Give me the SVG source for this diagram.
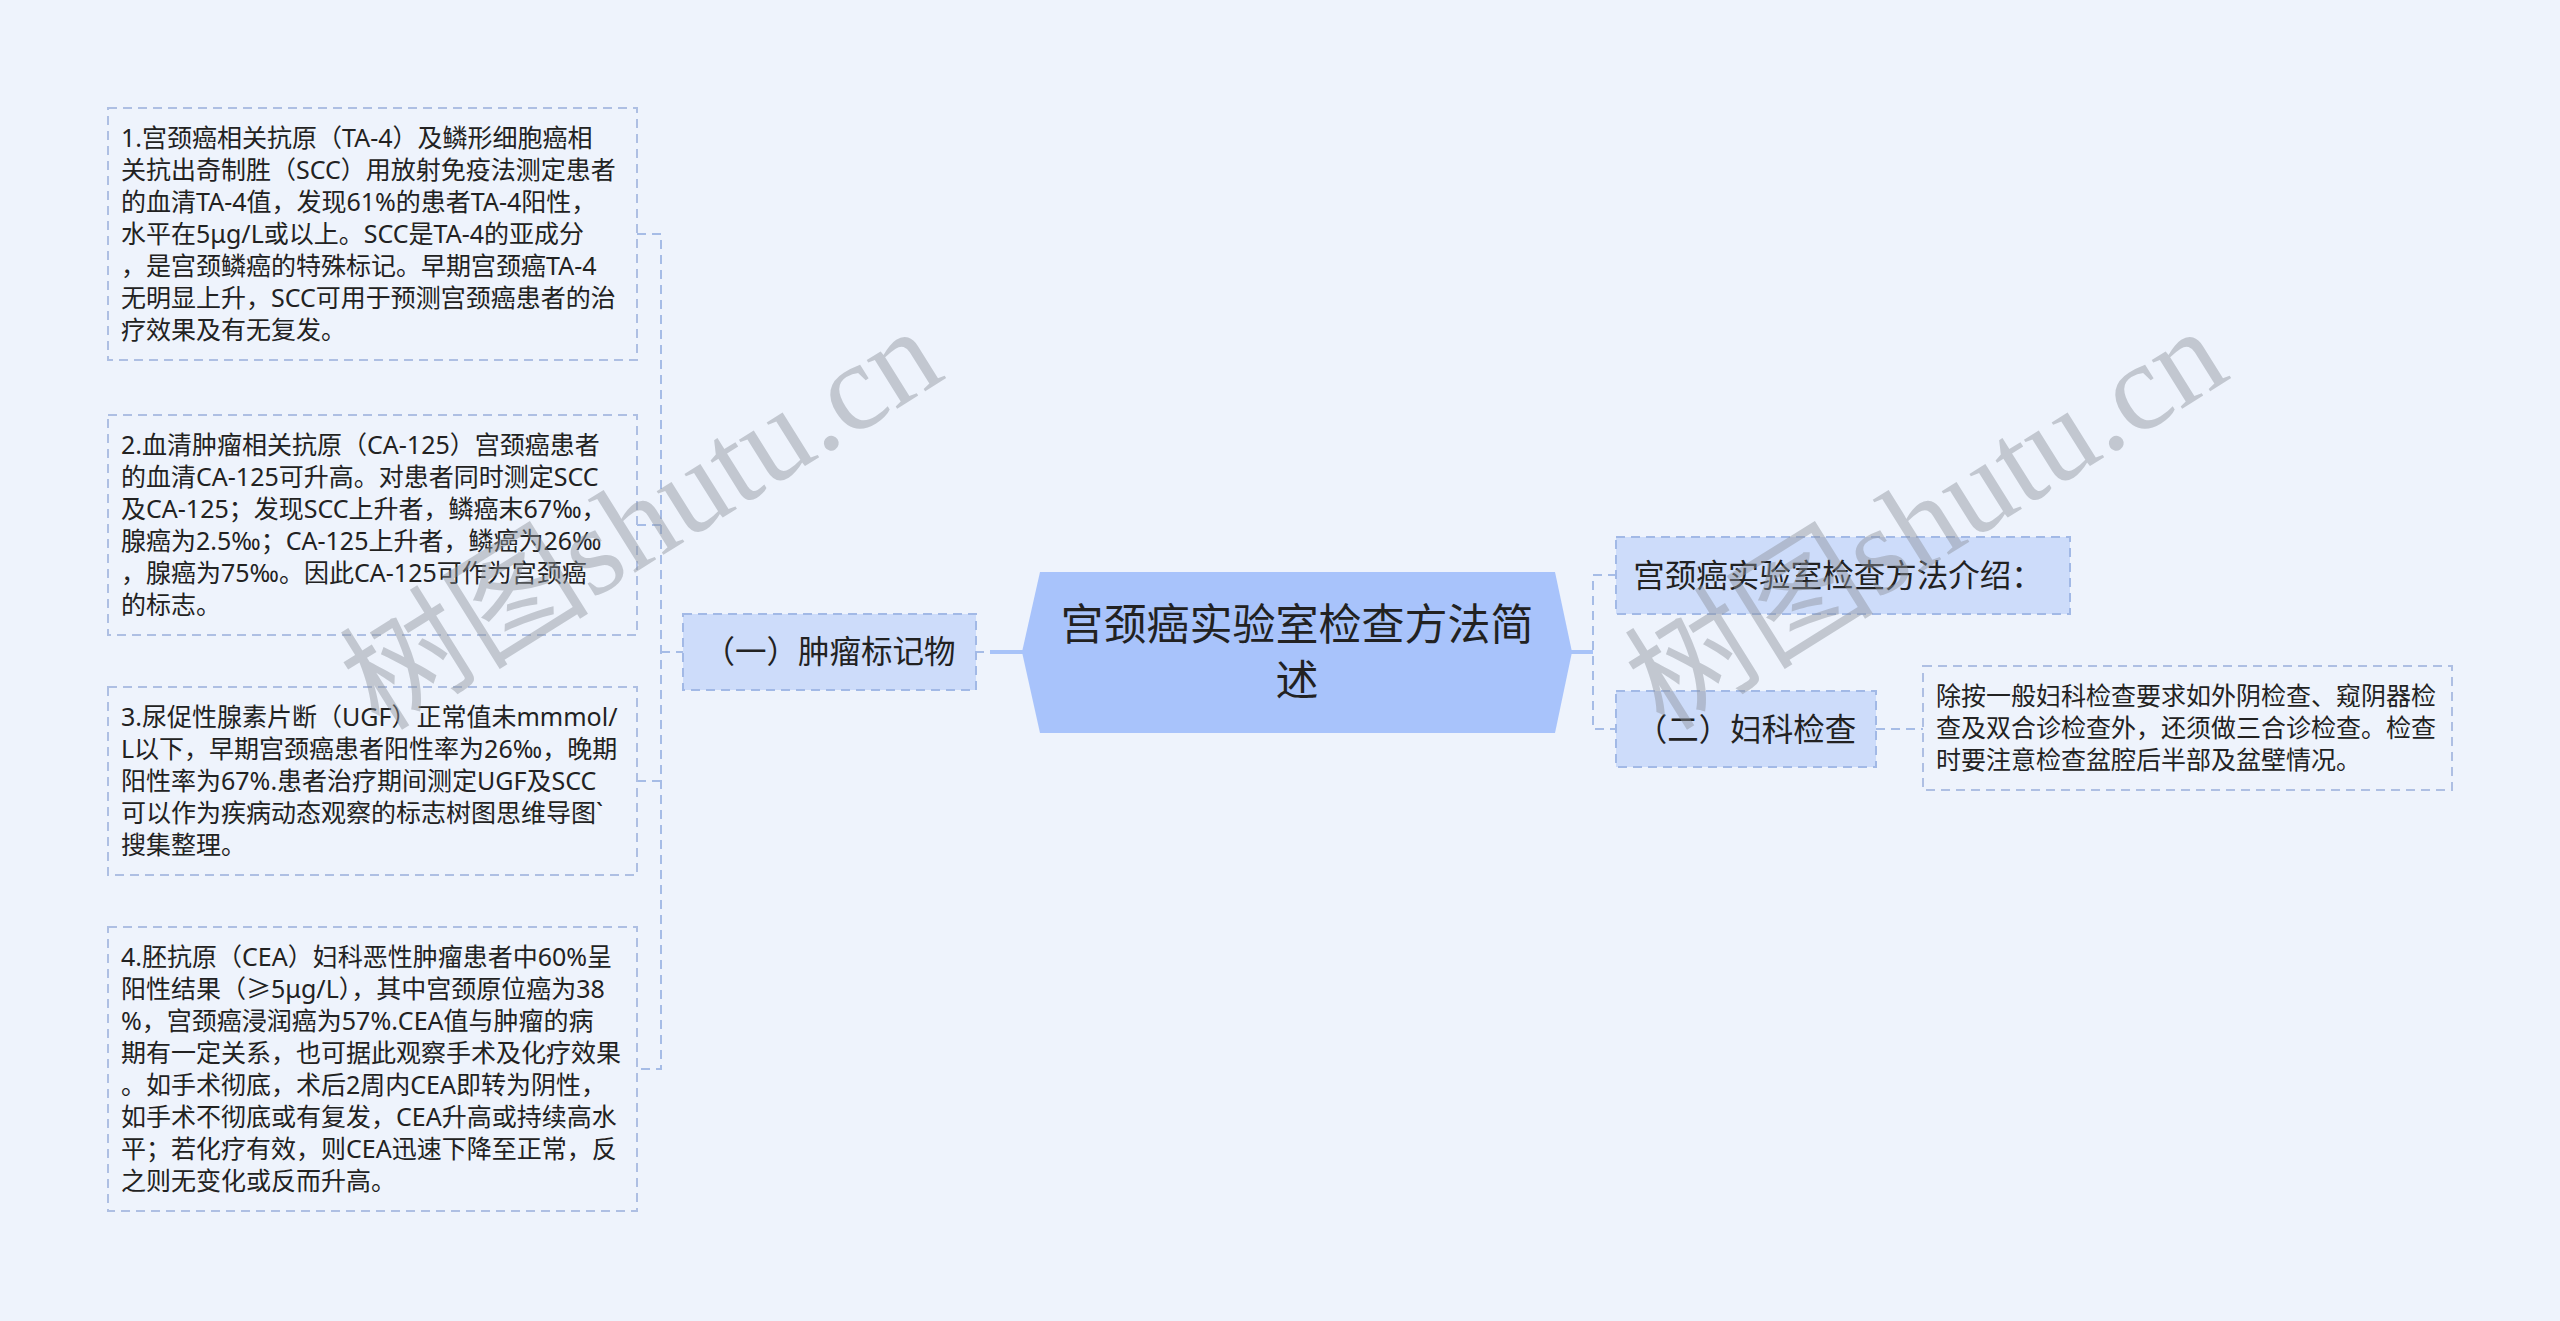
<svg xmlns="http://www.w3.org/2000/svg" width="2560" height="1321" viewBox="0 0 2560 1321">
<style>
text{font-family:"Noto Sans","Noto Sans CJK SC","Microsoft YaHei",sans-serif;fill:#222}
.leaf{fill:none;stroke:#aebfe3;stroke-width:2;stroke-dasharray:9 6}
.lt{font-size:25px}
.sub{fill:#cddcfa;stroke:#a2b9e6;stroke-width:2;stroke-dasharray:9 6}
.st{font-size:31.5px}
.con{fill:none;stroke:#a6bce6;stroke-width:2;stroke-dasharray:9 6}
.sol{fill:none;stroke:#a8c3f8;stroke-width:4}
.wm{font-family:"Liberation Serif","Noto Sans CJK SC",serif;font-size:125px;fill:#8d939c;opacity:0.45}
</style>
<rect width="2560" height="1321" fill="#eef3fc"/>
<g id="connectors">
<path class="con" d="M637,234 H661 V1069 H637 M637,525 H661 M637,781 H661 M661,652 H683"/>
<path class="con" d="M976,652 H984"/>
<path class="sol" d="M990,652 H1024"/>
<path class="sol" d="M1570,652 H1593"/>
<path class="con" d="M1617,575 H1593 V729 H1617"/>
<path class="con" d="M1876,729 H1923"/>
</g>
<g id="root">
<polygon points="1022,652 1040,572 1555,572 1572,652 1555,733 1040,733" fill="#a8c3fb"/>
<text x="1297" y="640" font-size="43" text-anchor="middle">宫颈癌实验室检查方法简</text>
<text x="1297" y="696" font-size="43" text-anchor="middle">述</text>
</g>
<g id="branch-tumor">
<rect class="sub" x="683" y="614" width="293" height="76"/>
<text class="st" x="829.5" y="663" text-anchor="middle">（一）肿瘤标记物</text>
</g>
<g id="leaf-1">
<rect class="leaf" x="108" y="108" width="529" height="252"/>
<text class="lt" x="121"><tspan x="121" y="147">1.宫颈癌相关抗原（TA-4）及鳞形细胞癌相</tspan><tspan x="121" y="179">关抗出奇制胜（SCC）用放射免疫法测定患者</tspan><tspan x="121" y="211">的血清TA-4值，发现61%的患者TA-4阳性，</tspan><tspan x="121" y="243">水平在5μg/L或以上。SCC是TA-4的亚成分</tspan><tspan x="121" y="275">，是宫颈鳞癌的特殊标记。早期宫颈癌TA-4</tspan><tspan x="121" y="307">无明显上升，SCC可用于预测宫颈癌患者的治</tspan><tspan x="121" y="339">疗效果及有无复发。</tspan></text>
</g>
<g id="leaf-2">
<rect class="leaf" x="108" y="415" width="529" height="220"/>
<text class="lt" x="121"><tspan x="121" y="454">2.血清肿瘤相关抗原（CA-125）宫颈癌患者</tspan><tspan x="121" y="486">的血清CA-125可升高。对患者同时测定SCC</tspan><tspan x="121" y="518">及CA-125；发现SCC上升者，鳞癌末67‰，</tspan><tspan x="121" y="550">腺癌为2.5‰；CA-125上升者，鳞癌为26‰</tspan><tspan x="121" y="582">，腺癌为75‰。因此CA-125可作为宫颈癌</tspan><tspan x="121" y="614">的标志。</tspan></text>
</g>
<g id="leaf-3">
<rect class="leaf" x="108" y="687" width="529" height="188"/>
<text class="lt" x="121"><tspan x="121" y="726">3.尿促性腺素片断（UGF）正常值未mmmol/</tspan><tspan x="121" y="758">L以下，早期宫颈癌患者阳性率为26‰，晚期</tspan><tspan x="121" y="790">阳性率为67%.患者治疗期间测定UGF及SCC</tspan><tspan x="121" y="822">可以作为疾病动态观察的标志树图思维导图`</tspan><tspan x="121" y="854">搜集整理。</tspan></text>
</g>
<g id="leaf-4">
<rect class="leaf" x="108" y="927" width="529" height="284"/>
<text class="lt" x="121"><tspan x="121" y="966">4.胚抗原（CEA）妇科恶性肿瘤患者中60%呈</tspan><tspan x="121" y="998">阳性结果（≥5μg/L），其中宫颈原位癌为38</tspan><tspan x="121" y="1030">%，宫颈癌浸润癌为57%.CEA值与肿瘤的病</tspan><tspan x="121" y="1062">期有一定关系，也可据此观察手术及化疗效果</tspan><tspan x="121" y="1094">。如手术彻底，术后2周内CEA即转为阴性，</tspan><tspan x="121" y="1126">如手术不彻底或有复发，CEA升高或持续高水</tspan><tspan x="121" y="1158">平；若化疗有效，则CEA迅速下降至正常，反</tspan><tspan x="121" y="1190">之则无变化或反而升高。</tspan></text>
</g>
<g id="branch-intro">
<rect class="sub" x="1616" y="537" width="454" height="77"/>
<text class="st" x="1838" y="587" text-anchor="middle">宫颈癌实验室检查方法介绍：</text>
</g>
<g id="branch-gyn">
<rect class="sub" x="1616" y="691" width="260" height="76"/>
<text class="st" x="1746" y="741" text-anchor="middle">（二）妇科检查</text>
</g>
<g id="leaf-gyn">
<rect class="leaf" x="1923" y="666" width="529" height="124"/>
<text class="lt" x="1936"><tspan x="1936" y="705">除按一般妇科检查要求如外阴检查、窥阴器检</tspan><tspan x="1936" y="737">查及双合诊检查外，还须做三合诊检查。检查</tspan><tspan x="1936" y="769">时要注意检查盆腔后半部及盆壁情况。</tspan></text>
</g>
<g id="watermarks">
<text class="wm" x="645" y="560" text-anchor="middle" transform="rotate(-32 645 525)">树图shutu.cn</text>
<text class="wm" x="1930" y="560" text-anchor="middle" transform="rotate(-32 1930 525)">树图shutu.cn</text>
</g>
</svg>
